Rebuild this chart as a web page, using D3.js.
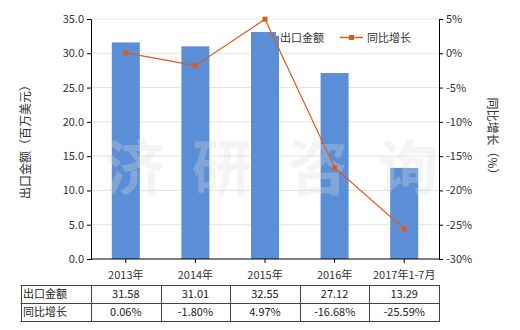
<!DOCTYPE html>
<html><head><meta charset="utf-8">
<script src="https://cdn.jsdelivr.net/npm/d3@7"></script>
<style>body{margin:0;background:#fff;}svg{display:block;font-family:"Noto Sans CJK SC","Noto Sans",sans-serif;}</style>
</head><body><svg id="c" width="520" height="330"></svg>
<script>
const categories = ["2013年","2014年","2015年","2016年","2017年1-7月"];
const exportValues = [31.58,31.01,32.55,27.12,13.29];
const growthValues = [0.06,-1.80,4.97,-16.68,-25.59];
const exportLabels = ["31.58","31.01","32.55","27.12","13.29"];
const growthLabels = ["0.06%","-1.80%","4.97%","-16.68%","-25.59%"];
const leftTicks = [0,5,10,15,20,25,30,35];
const rightTicks = [-30,-25,-20,-15,-10,-5,0,5];

const svg = d3.select("#c");
const L=91, R=439, T=19, B=259;
const x = d3.scaleBand().domain(categories).range([L,R]).paddingInner(0).paddingOuter(0);
const yL = d3.scaleLinear().domain([0,35]).range([B,T]);
const yR = d3.scaleLinear().domain([-30,5]).range([B,T]);
const barColor="#5a8ed6", lineColor="#e05a1c", textColor="#333";

// grid
svg.append("g").selectAll("line").data(leftTicks.filter(d=>d>0)).join("line")
  .attr("x1",L).attr("x2",R).attr("y1",d=>yL(d)).attr("y2",d=>yL(d))
  .attr("stroke","#e6e6d6").attr("stroke-width",1);

// bars
const bw = 28;
svg.append("g").selectAll("rect").data(exportValues).join("rect")
  .attr("x",(d,i)=>x(categories[i])+x.bandwidth()/2-bw/2)
  .attr("width",bw)
  .attr("y",d=>yL(d)).attr("height",d=>B-yL(d))
  .attr("fill",barColor);

// watermark
const wm = svg.append("g").attr("font-size",60).attr("font-weight","bold").attr("fill","#dcdcdc").attr("opacity",0.3);
[["济",135],["研",222],["咨",318],["询",408]].forEach(([t,cx])=>
  wm.append("text").attr("x",cx).attr("y",190).attr("text-anchor","middle").text(t));

// legend (bar icon drawn before line)
svg.append("rect").attr("x",251).attr("y",32).attr("width",25).attr("height",14).attr("fill",barColor);
svg.append("text").attr("x",280).attr("y",42).attr("font-size",11).attr("fill",textColor).text("出口金额");
svg.append("line").attr("x1",340).attr("x2",363).attr("y1",37.5).attr("y2",37.5).attr("stroke",lineColor).attr("stroke-width",1.5);
svg.append("rect").attr("x",349).attr("y",35).attr("width",5).attr("height",5).attr("fill",lineColor);
svg.append("text").attr("x",367).attr("y",42).attr("font-size",11).attr("fill",textColor).text("同比增长");

// line
const line = d3.line().x((d,i)=>x(categories[i])+x.bandwidth()/2).y(d=>yR(d));
svg.append("path").datum(growthValues).attr("d",line).attr("fill","none")
  .attr("stroke",lineColor).attr("stroke-width",1.2);
svg.append("g").selectAll("rect").data(growthValues).join("rect")
  .attr("x",(d,i)=>x(categories[i])+x.bandwidth()/2-2.5)
  .attr("y",d=>yR(d)-2.5).attr("width",5).attr("height",5).attr("fill",lineColor);

// axes
const axL = svg.append("g").attr("transform",`translate(${L},0)`)
  .call(d3.axisLeft(yL).tickValues(leftTicks).tickFormat(d3.format(".1f")).tickSize(4));
const axR = svg.append("g").attr("transform",`translate(${R},0)`)
  .call(d3.axisRight(yR).tickValues(rightTicks).tickFormat(d=>d+"%").tickSize(4));
const axB = svg.append("g").attr("transform",`translate(0,${B})`)
  .call(d3.axisBottom(x).tickSize(4).tickSizeOuter(0));
[axL,axR,axB].forEach(a=>{
  a.selectAll("path,line").attr("stroke","#000");
  a.selectAll("text").attr("fill",textColor).attr("font-size",11).attr("font-family","'Noto Sans CJK SC',sans-serif");
});
axB.select(".domain").attr("d",`M${L},0H${R}`);
axB.selectAll("text").attr("dy","1.2em");

// axis titles
svg.append("text").attr("transform","translate(30,139) rotate(-90)").attr("text-anchor","middle")
  .attr("font-size",12).attr("fill",textColor).text("出口金额（百万美元）");
svg.append("text").attr("transform","translate(488,139) rotate(90)").attr("text-anchor","middle")
  .attr("font-size",12).attr("fill",textColor).text("同比增长（%）");

// table
const tT=285, tM=303, tB=321, tL=20.5;
const tbl = svg.append("g");
[tT,tM,tB].forEach(y=>tbl.append("line").attr("x1",tL).attr("x2",R).attr("y1",y+0.5).attr("y2",y+0.5).attr("stroke","#444"));
const colX=[tL,L].concat(categories.map(c=>x(c)+x.bandwidth()));
colX.forEach(cx=>tbl.append("line").attr("x1",Math.round(cx)+0.5).attr("x2",Math.round(cx)+0.5).attr("y1",tT).attr("y2",tB+1).attr("stroke","#444"));
tbl.append("text").attr("x",23).attr("y",298).attr("font-size",11).attr("fill","#222").text("出口金额");
tbl.append("text").attr("x",23).attr("y",316).attr("font-size",11).attr("fill","#222").text("同比增长");
tbl.selectAll(".v1").data(exportLabels).join("text")
  .attr("x",(d,i)=>x(categories[i])+x.bandwidth()/2).attr("y",298).attr("text-anchor","middle")
  .attr("font-size",11).attr("fill","#222").text(d=>d);
tbl.selectAll(".v2").data(growthLabels).join("text")
  .attr("x",(d,i)=>x(categories[i])+x.bandwidth()/2).attr("y",316).attr("text-anchor","middle")
  .attr("font-size",11).attr("fill","#222").text(d=>d);
</script></body></html>
